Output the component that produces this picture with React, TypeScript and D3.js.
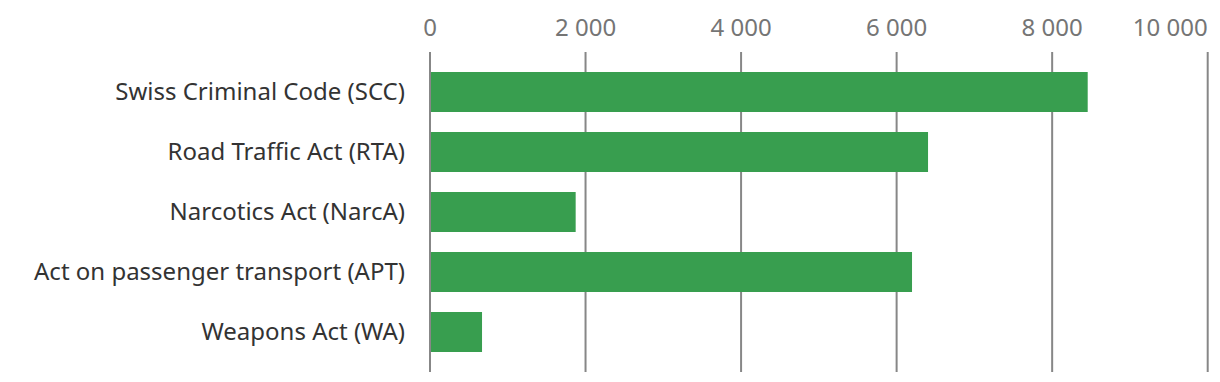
import React from "react";
import * as d3 from "d3";

const categories: string[] = [
  "Swiss Criminal Code (SCC)",
  "Road Traffic Act (RTA)",
  "Narcotics Act (NarcA)",
  "Act on passenger transport (APT)",
  "Weapons Act (WA)",
];
const values: number[] = [8457, 6404, 1873, 6198, 669];
const tickValues: number[] = [0, 2000, 4000, 6000, 8000, 10000];
const tickLabels: string[] = ["0", "2 000", "4 000", "6 000", "8 000", "10 000"];

const W = 1220;
const H = 382;
const FONT = "'Noto Sans', 'Open Sans', sans-serif";

export default function App() {
  const x = d3.scaleLinear().domain([0, 10000]).range([430, 1207.7]);
  const y = d3
    .scaleBand<string>()
    .domain(categories)
    .range([52, 372])
    .paddingInner(1 / 3)
    .paddingOuter(1 / 3);

  return (
    <svg
      width={W}
      height={H}
      style={{ position: "absolute", left: 0, top: 0, background: "#fff" }}
      fontFamily={FONT}
    >
      {tickValues.map((t, i) => {
        const last = i === tickValues.length - 1;
        return (
          <g key={t}>
            <line
              x1={x(t)}
              x2={x(t)}
              y1={52}
              y2={372}
              stroke="#878787"
              strokeWidth={2}
            />
            <text
              x={x(t)}
              y={36}
              textAnchor={last ? "end" : "middle"}
              fontSize={24}
              fill="#757575"
            >
              {tickLabels[i]}
            </text>
          </g>
        );
      })}
      {categories.map((c, i) => (
        <g key={c}>
          <rect
            x={x(0) + 1}
            y={y(c)!}
            width={x(values[i]) - x(0) - 1}
            height={y.bandwidth()}
            fill="#389e4f"
          />
          <text
            x={405}
            y={y(c)! + y.bandwidth() / 2}
            dy="0.35em"
            textAnchor="end"
            fontSize={24}
            fill="#333333"
          >
            {c}
          </text>
        </g>
      ))}
    </svg>
  );
}
